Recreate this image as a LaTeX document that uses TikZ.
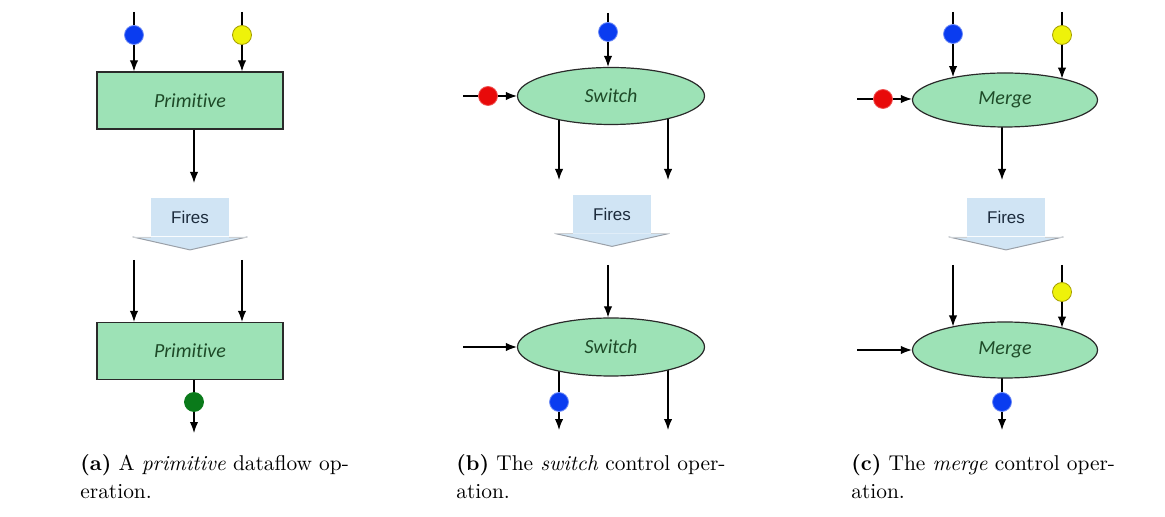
\documentclass[tikz,border=0pt]{standalone}
\usepackage{fontspec}
\newfontfamily\lblfont[Ligatures=NoCommon]{Carlito}
\newfontfamily\firesfont{Liberation Sans}
\usetikzlibrary{arrows.meta,shapes.geometric,backgrounds}
\definecolor{opfill}{HTML}{9DE2B6}
\definecolor{opdraw}{HTML}{2A2A2A}
\definecolor{optext}{HTML}{1E4A28}
\definecolor{firefill}{HTML}{D0E4F4}
\definecolor{fireedge}{HTML}{9AA0A8}
\definecolor{firetext}{HTML}{1C2B3C}
\definecolor{tokblue}{HTML}{0A3CF0}
\definecolor{tokyellow}{HTML}{EEF20A}
\definecolor{tokred}{HTML}{E80A0A}
\definecolor{tokgreen}{HTML}{0A7A1A}
\tikzset{
  opbox/.style={draw=opdraw, fill=opfill, line width=0.6pt, minimum width=93pt,
    minimum height=28.5pt, inner sep=0pt, text=optext,
    font=\lblfont\itshape\fontsize{10}{12}\selectfont},
  opoval/.style={opbox, ellipse},
  tok/.style={circle, inner sep=0pt, minimum size=9.5pt, line width=0.4pt},
  wire/.style={line width=0.6pt, black},
  flow/.style={wire, -{Latex[length=5.5pt,width=4.2pt]}},
  firesbody/.style={fill=firefill, minimum width=39pt, minimum height=19pt,
    inner sep=0pt, text=firetext, font=\firesfont\fontsize{8.5}{10}\selectfont},
  captext/.style={anchor=base west, inner sep=0pt, font=\fontsize{10.7}{14}\selectfont},
}
\newcommand{\FiresHead}[1]{%
  \fill[firefill] ([xshift=-9pt]#1.south west) -- ([xshift=9pt]#1.south east)
    -- ([yshift=-6.5pt]#1.south) -- cycle;
  \draw[fireedge, line width=0.5pt] ([xshift=-9pt]#1.south west) -- ([yshift=-6.5pt]#1.south)
    -- ([xshift=9pt]#1.south east);
  \draw[fireedge!50!white, line width=0.3pt] ([xshift=-9pt]#1.south west) -- (#1.south west)
    (#1.south east) -- ([xshift=9pt]#1.south east);
}
\begin{document}
\begin{tikzpicture}[x=0.5pt,y=-0.5pt]
\useasboundingbox (0,0) rectangle (1165,517);

% ---------------- (a) primitive ----------------
\node[opbox] (aop1) at (190,100.5) {Primitive};
\coordinate (a1s1) at (134,12);
\coordinate (a1s2) at (242,12);
\node[tok, fill=tokblue, draw=tokblue!60!white] (a1b) at (134,35) {};
\node[tok, fill=tokyellow, draw=olive!80!yellow] (a1y) at (242,35) {};
\draw[wire] (a1s1) -- (a1b);
\draw[wire] (a1s2) -- (a1y);
\draw[flow] (a1b) -- (a1b |- aop1.north);
\draw[flow] (a1y) -- (a1y |- aop1.north);
\coordinate (a1o) at (194,183);
\draw[flow] (aop1.south -| a1o) -- (a1o);

\node[firesbody] (fa) at (190,217.5) {Fires};
\FiresHead{fa}

\node[opbox] (aop2) at (190,351) {Primitive};
\coordinate (a2s1) at (134,260);
\coordinate (a2s2) at (242,260);
\draw[flow] (a2s1) -- (a2s1 |- aop2.north);
\draw[flow] (a2s2) -- (a2s2 |- aop2.north);
\node[tok, fill=tokgreen, draw=tokgreen] (a2g) at (194,402) {};
\coordinate (a2o) at (194,433);
\draw[wire] (aop2.south -| a2g) -- (a2g);
\draw[flow] (a2g) -- (a2o);

\node[captext] (capa1) at (80,470) {\textbf{(a)} A \textit{primitive} dataflow op-};
\node[captext] (capa2) at (80,498) {eration.};

% ---------------- (b) switch ----------------
\node[opoval, minimum width=93.5pt, minimum height=28.5pt] (bop1) at (611,96) {Switch};
\coordinate (b1s) at (608,13);
\node[tok, fill=tokblue, draw=tokblue!60!white] (b1b) at (608,32) {};
\draw[wire] (b1s) -- (b1b);
\draw[flow] (b1b) -- (b1b |- bop1.north);
\coordinate (b1rs) at (463,96);
\node[tok, fill=tokred, draw=tokred!70!white] (b1r) at (488,96) {};
\draw[wire] (b1rs) -- (b1r);
\draw[flow] (b1r) -- (bop1.west);
\coordinate (b1o1) at (559,180);
\coordinate (b1o2) at (668,180);
\begin{scope}[on background layer]
\draw[flow] (bop1.center -| b1o1) -- (b1o1);
\draw[flow] (bop1.center -| b1o2) -- (b1o2);
\end{scope}

\node[firesbody] (fb) at (612,214) {Fires};
\FiresHead{fb}

\node[opoval, minimum width=93.5pt, minimum height=29pt] (bop2) at (611,347) {Switch};
\coordinate (b2s) at (608,265);
\draw[flow] (b2s) -- (b2s |- bop2.north);
\coordinate (b2ls) at (463,347);
\draw[flow] (b2ls) -- (bop2.west);
\coordinate (b2o1) at (559,430);
\coordinate (b2o2) at (668,430);
\begin{scope}[on background layer]
\draw[flow] (bop2.center -| b2o1) -- (b2o1);
\draw[flow] (bop2.center -| b2o2) -- (b2o2);
\end{scope}
\node[tok, fill=tokblue, draw=tokblue!60!white] (b2b) at (559,402) {};

\node[captext] (capb1) at (456,470) {\textbf{(b)} The \textit{switch} control oper-};
\node[captext] (capb2) at (456,498) {ation.};

% ---------------- (c) merge ----------------
\node[opoval, minimum width=92.5pt, minimum height=27pt] (cop1) at (1005,100) {Merge};
\coordinate (c1s1) at (953,12);
\coordinate (c1s2) at (1062,12);
\node[tok, fill=tokblue, draw=tokblue!60!white] (c1b) at (953,34) {};
\node[tok, fill=tokyellow, draw=olive!80!yellow] (c1y) at (1062,35) {};
\draw[wire] (c1s1) -- (c1b);
\draw[wire] (c1s2) -- (c1y);
\draw[flow] (c1b) -- (c1b |- cop1.156.8);
\draw[flow] (c1y) -- (c1y |- cop1.20.5);
\coordinate (c1rs) at (857,99);
\node[tok, fill=tokred, draw=tokred!70!white] (c1r) at (883,99) {};
\draw[wire] (c1rs) -- (c1r);
\draw[flow] (c1r) -- (c1r -| cop1.west);
\coordinate (c1o) at (1002,180);
\begin{scope}[on background layer]
\draw[flow] (cop1.center -| c1o) -- (c1o);
\end{scope}

\node[firesbody] (fc) at (1006,217.5) {Fires};
\FiresHead{fc}

\node[opoval, minimum width=92.5pt, minimum height=28pt] (cop2) at (1005,350) {Merge};
\coordinate (c2s1) at (953,265);
\coordinate (c2s2) at (1062,265);
\draw[flow] (c2s1) -- (c2s1 |- cop2.156.0);
\node[tok, fill=tokyellow, draw=olive!80!yellow] (c2y) at (1062,292) {};
\draw[wire] (c2s2) -- (c2y);
\draw[flow] (c2y) -- (c2y |- cop2.21.1);
\coordinate (c2ls) at (857,350);
\draw[flow] (c2ls) -- (cop2.west);
\coordinate (c2o) at (1002,430);
\begin{scope}[on background layer]
\draw[flow] (cop2.center -| c2o) -- (c2o);
\end{scope}
\node[tok, fill=tokblue, draw=tokblue!60!white] (c2b) at (1002,402) {};

\node[captext] (capc1) at (851,470) {\textbf{(c)} The \textit{merge} control oper-};
\node[captext] (capc2) at (851,498) {ation.};
\end{tikzpicture}
\end{document}
